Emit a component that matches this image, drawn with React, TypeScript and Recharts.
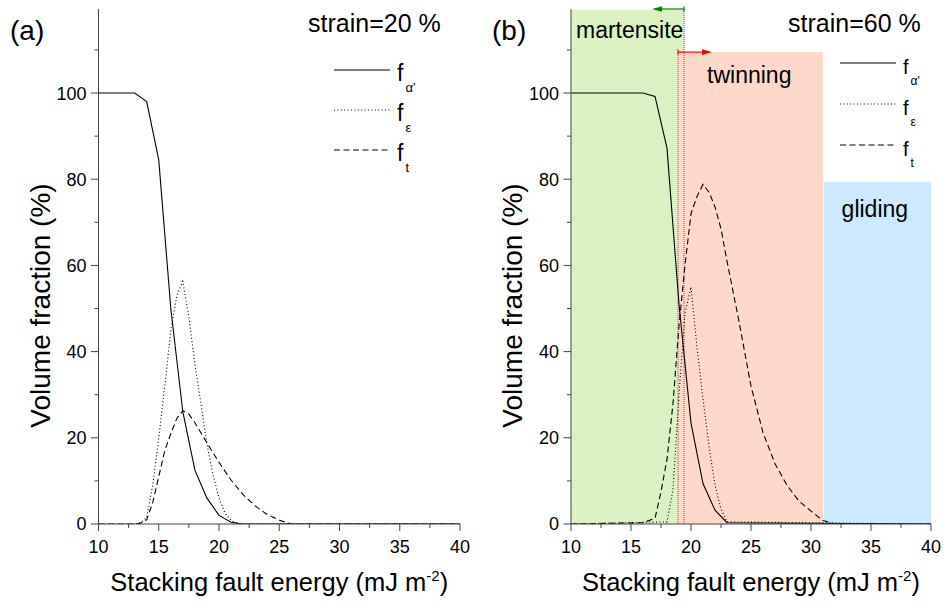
import React from 'react';
import {
  LineChart,
  Line,
  XAxis,
  YAxis,
  ReferenceArea,
  ReferenceLine,
  Legend,
} from 'recharts';

const FONT = 'Arial, "Liberation Sans", Helvetica, sans-serif';
const AXIS = '#444';

// ---- strain = 20 % : volume fractions vs stacking fault energy ----
const sfeAlpha20 = [10, 13, 14, 15, 16, 17, 18, 19, 20, 21, 22, 40];
const fAlpha20 = [100, 100, 98, 84.5, 50, 26, 12.5, 6, 2, 0.4, 0, 0];

const sfeEps20 = [10, 13, 13.5, 14, 14.5, 15, 15.5, 16, 16.5, 17, 17.5, 18, 18.5, 19, 19.5, 20, 20.5, 21, 21.5, 22, 40];
const fEps20 = [0, 0, 0.3, 1.5, 9, 20, 32, 45, 53, 56.3, 48, 37, 28, 18.5, 11.5, 6, 2.5, 0.8, 0.2, 0, 0];

const sfeT20 = [10, 13, 13.5, 14, 14.5, 15, 15.5, 16, 16.5, 17, 17.5, 18, 19, 20, 21, 22, 23, 24, 25, 26, 40];
const fT20 = [0, 0, 0.2, 1, 5, 11, 17, 21, 24.5, 26.3, 25.5, 23.5, 18.8, 14.3, 10.2, 6.8, 4.2, 2.2, 0.9, 0, 0];

// ---- strain = 60 % ----
const sfeAlpha60 = [10, 16, 17, 18, 19, 20, 21, 22, 23, 40];
const fAlpha60 = [100, 100, 99.2, 87.2, 51, 23.4, 9.4, 3.2, 0.3, 0];

const sfeEps60 = [10, 18, 18.5, 19, 19.5, 20, 20.5, 21, 21.5, 22, 22.5, 23, 40];
const fEps60 = [0, 0.5, 8, 30, 49, 55, 41, 29, 18, 9, 3.5, 0.5, 0];

const sfeT60 = [10, 16, 17, 17.5, 18, 18.5, 19, 19.5, 20, 20.5, 21, 21.5, 22, 22.5, 23, 24, 25, 26, 27, 28, 29, 30, 31, 32, 40];
const fT60 = [0, 0.3, 1.3, 7.5, 15, 28, 46, 60, 72, 76, 78.8, 77, 73.6, 68.5, 61, 47, 32, 21.2, 14, 9, 5.3, 3, 0.8, 0, 0];

// deformation-mechanism regions (SFE bounds and heights, in data units)
const martensiteRange = [10, 19.42];
const twinningRange = [18.92, 31];
const glidingRange = [31.05, 40];
const martensiteTop = 119.3;
const twinningTop = 109.5;
const glidingTop = 79.4;
const martensiteArrowEnd = 16.75;
const twinningArrowEnd = 21.75;

// axes
const xDomain = [10, 40];
const yDomain = [0, 119.5];
const xTicks = [10, 12.5, 15, 17.5, 20, 22.5, 25, 27.5, 30, 32.5, 35, 37.5, 40];
const yTicks = [0, 10, 20, 30, 40, 50, 60, 70, 80, 90, 100, 110];

type Pt = { x: number; y: number };
const toPoints = (xs: number[], ys: number[]): Pt[] => xs.map((x, i) => ({ x, y: ys[i] }));

const seriesStyle = [
  { name: "α'", dash: undefined as string | undefined },
  { name: 'ε', dash: '1 2.4' },
  { name: 't', dash: '6 3.5' },
];

const XTick = (props: any) => {
  const { x, y, payload } = props;
  const v = payload.value as number;
  const major = v % 5 === 0;
  return (
    <g>
      <line x1={x} y1={y} x2={x} y2={y + (major ? 7 : 4)} stroke={AXIS} strokeWidth={1} />
      {major && (
        <text x={x} y={y + 29} textAnchor="middle" fontSize={18} fontFamily={FONT} fill="#000">
          {v}
        </text>
      )}
    </g>
  );
};

const YTick = (props: any) => {
  const { x, y, payload } = props;
  const v = payload.value as number;
  const major = v % 20 === 0 && v <= 100;
  return (
    <g>
      <line x1={x - (major ? 7.5 : 4)} y1={y} x2={x} y2={y} stroke={AXIS} strokeWidth={1} />
      {major && (
        <text x={x - 12} y={y} dy="0.36em" textAnchor="end" fontSize={18} fontFamily={FONT} fill="#000">
          {v}
        </text>
      )}
    </g>
  );
};

const XTitle = (props: any) => {
  const vb = props.viewBox;
  return (
    <text x={vb.x + vb.width / 2} y={vb.y + 67} textAnchor="middle" fontSize={25.5} fontFamily={FONT} fill="#000">
      Stacking fault energy (mJ m
      <tspan fontSize={15} dy={-10}>-2</tspan>
      <tspan dy={10}>)</tspan>
    </text>
  );
};

const YTitle = (props: any) => {
  const vb = props.viewBox;
  const cx = vb.x + vb.width - 58.5;
  const cy = vb.y + vb.height / 2 + 39;
  return (
    <text
      x={cx}
      y={cy}
      transform={`rotate(-90 ${cx} ${cy})`}
      textAnchor="middle"
      dominantBaseline="central"
      fontSize={28}
      fontFamily={FONT}
      fill="#000"
    >
      Volume fraction (%)
    </text>
  );
};

const makeLegend = (fs: number, subFs: number, rowGap: number) => () => (
  <svg width={120} height={3 * rowGap + 20} style={{ overflow: 'visible' }}>
    {seriesStyle.map((s, i) => {
      const ry = 20 + i * rowGap;
      return (
        <g key={s.name}>
          <line x1={0} y1={ry} x2={56} y2={ry} stroke="#000" strokeWidth={1} strokeDasharray={s.dash} />
          <text x={63} y={ry + 10.5} fontSize={fs} fontFamily={FONT} fill="#000">
            f
            <tspan fontSize={subFs} dx={2} dy={11}>
              {s.name}
            </tspan>
          </text>
        </g>
      );
    })}
  </svg>
);

const arrowShape = (color: string) => (props: any) => {
  const { x1, y1, x2, y2 } = props;
  const dir = x2 > x1 ? 1 : -1;
  const head = 10;
  return (
    <g>
      <line x1={x1} y1={y1} x2={x2 - dir * head * 0.6} y2={y2} stroke={color} strokeWidth={1.2} />
      <line x1={x1} y1={y1 - 2.5} x2={x1} y2={y1 + 2.5} stroke={color} strokeWidth={1.2} />
      <path d={`M${x2},${y2} L${x2 - dir * head},${y2 - 2.8} L${x2 - dir * head},${y2 + 2.8} Z`} fill={color} />
    </g>
  );
};

const regionLabel = (text: string, dx: number, dy: number) => (props: any) => {
  const vb = props.viewBox;
  return (
    <text x={vb.x + dx} y={vb.y + dy} fontSize={23} fontFamily={FONT} fill="#000">
      {text}
    </text>
  );
};

type PanelProps = {
  width: number;
  marginLeft: number;
  marginRight: number;
  alpha: Pt[];
  eps: Pt[];
  twin: Pt[];
  regions?: boolean;
  legend: { left: number; top: number; fs: number; subFs: number; gap: number };
};

const Panel = ({ width, marginLeft, marginRight, alpha, eps, twin, regions, legend }: PanelProps) => (
  <LineChart
    width={width}
    height={610}
    margin={{ top: 9, right: marginRight, bottom: 26, left: marginLeft }}
    style={{ fontFamily: FONT }}
  >
    <XAxis
      type="number"
      dataKey="x"
      domain={xDomain}
      ticks={xTicks}
      interval={0}
      allowDataOverflow
      height={60}
      tickLine={false}
      tickSize={0}
      tickMargin={0}
      tick={<XTick />}
      axisLine={{ stroke: AXIS, strokeWidth: 1 }}
      label={<XTitle />}
    />
    <YAxis
      type="number"
      domain={yDomain}
      ticks={yTicks}
      interval={0}
      allowDataOverflow
      width={60}
      tickLine={false}
      tickSize={0}
      tickMargin={0}
      tick={<YTick />}
      axisLine={{ stroke: AXIS, strokeWidth: 1 }}
      label={<YTitle />}
    />
    {regions && (
      <ReferenceArea
        x1={martensiteRange[0]}
        x2={martensiteRange[1]}
        y1={0}
        y2={martensiteTop}
        fill="#daf1c2"
        fillOpacity={1}
        stroke="none"
        ifOverflow="visible"
        label={regionLabel('martensite', 5, 28)}
      />
    )}
    {regions && (
      <ReferenceArea
        x1={twinningRange[0]}
        x2={twinningRange[1]}
        y1={0}
        y2={twinningTop}
        fill="#ffd8ca"
        fillOpacity={1}
        stroke="none"
        ifOverflow="visible"
        label={regionLabel('twinning', 29, 31)}
      />
    )}
    {regions && (
      <ReferenceArea
        x1={glidingRange[0]}
        x2={glidingRange[1]}
        y1={0}
        y2={glidingTop}
        fill="#cceaff"
        fillOpacity={1}
        stroke="none"
        ifOverflow="visible"
        label={regionLabel('gliding', 18, 35)}
      />
    )}
    {regions && (
      <ReferenceLine
        segment={[
          { x: twinningRange[0], y: 0 },
          { x: twinningRange[0], y: twinningTop },
        ]}
        stroke="#ff2020"
        strokeWidth={1}
        strokeDasharray="1 1"
        ifOverflow="visible"
      />
    )}
    {regions && (
      <ReferenceLine
        segment={[
          { x: martensiteRange[1], y: 0 },
          { x: martensiteRange[1], y: yDomain[1] },
        ]}
        stroke="#2e8b2e"
        strokeWidth={1}
        strokeDasharray="1 1"
        ifOverflow="visible"
      />
    )}
    {regions && (
      <ReferenceLine
        segment={[
          { x: martensiteRange[1], y: yDomain[1] },
          { x: martensiteArrowEnd, y: yDomain[1] },
        ]}
        ifOverflow="visible"
        shape={arrowShape('#008000')}
      />
    )}
    {regions && (
      <ReferenceLine
        segment={[
          { x: twinningRange[0], y: twinningTop },
          { x: twinningArrowEnd, y: twinningTop },
        ]}
        ifOverflow="visible"
        shape={arrowShape('#ff0000')}
      />
    )}
    <Line
      data={alpha}
      dataKey="y"
      name="α'"
      type="linear"
      stroke="#000"
      strokeWidth={1.1}
      dot={false}
      activeDot={false}
      isAnimationActive={false}
    />
    <Line
      data={eps}
      dataKey="y"
      name="ε"
      type="linear"
      stroke="#000"
      strokeWidth={1.1}
      strokeDasharray="1 2.4"
      dot={false}
      activeDot={false}
      isAnimationActive={false}
    />
    <Line
      data={twin}
      dataKey="y"
      name="t"
      type="linear"
      stroke="#000"
      strokeWidth={1.1}
      strokeDasharray="6 3.5"
      dot={false}
      activeDot={false}
      isAnimationActive={false}
    />
    <Legend
      layout="vertical"
      align="center"
      verticalAlign="middle"
      content={makeLegend(legend.fs, legend.subFs, legend.gap)}
      wrapperStyle={{ left: legend.left, top: legend.top, width: 120, height: 140 }}
    />
  </LineChart>
);

export default function App() {
  return (
    <div
      style={{
        position: 'absolute',
        left: 0,
        top: 0,
        width: 946,
        height: 610,
        background: '#fff',
        fontFamily: FONT,
        overflow: 'hidden',
      }}
    >
      <div style={{ position: 'absolute', left: 0, top: 0 }}>
        <Panel
          width={470}
          marginLeft={38.5}
          marginRight={10}
          alpha={toPoints(sfeAlpha20, fAlpha20)}
          eps={toPoints(sfeEps20, fEps20)}
          twin={toPoints(sfeT20, fT20)}
          legend={{ left: 334, top: 50, fs: 23, subFs: 13, gap: 40 }}
        />
      </div>
      <div style={{ position: 'absolute', left: 470, top: 0 }}>
        <Panel
          width={476}
          marginLeft={41}
          marginRight={15}
          alpha={toPoints(sfeAlpha60, fAlpha60)}
          eps={toPoints(sfeEps60, fEps60)}
          twin={toPoints(sfeT60, fT60)}
          regions
          legend={{ left: 370, top: 43, fs: 20, subFs: 12, gap: 41 }}
        />
      </div>
      <svg width={946} height={610} style={{ position: 'absolute', left: 0, top: 0, pointerEvents: 'none' }}>
        <text x={10} y={40} fontSize={28} fontFamily={FONT} fill="#000">(a)</text>
        <text x={308} y={32} fontSize={25} fontFamily={FONT} fill="#000">strain=20 %</text>
        <text x={492} y={40} fontSize={28} fontFamily={FONT} fill="#000">(b)</text>
        <text x={788} y={32} fontSize={25} fontFamily={FONT} fill="#000">strain=60 %</text>
      </svg>
    </div>
  );
}
